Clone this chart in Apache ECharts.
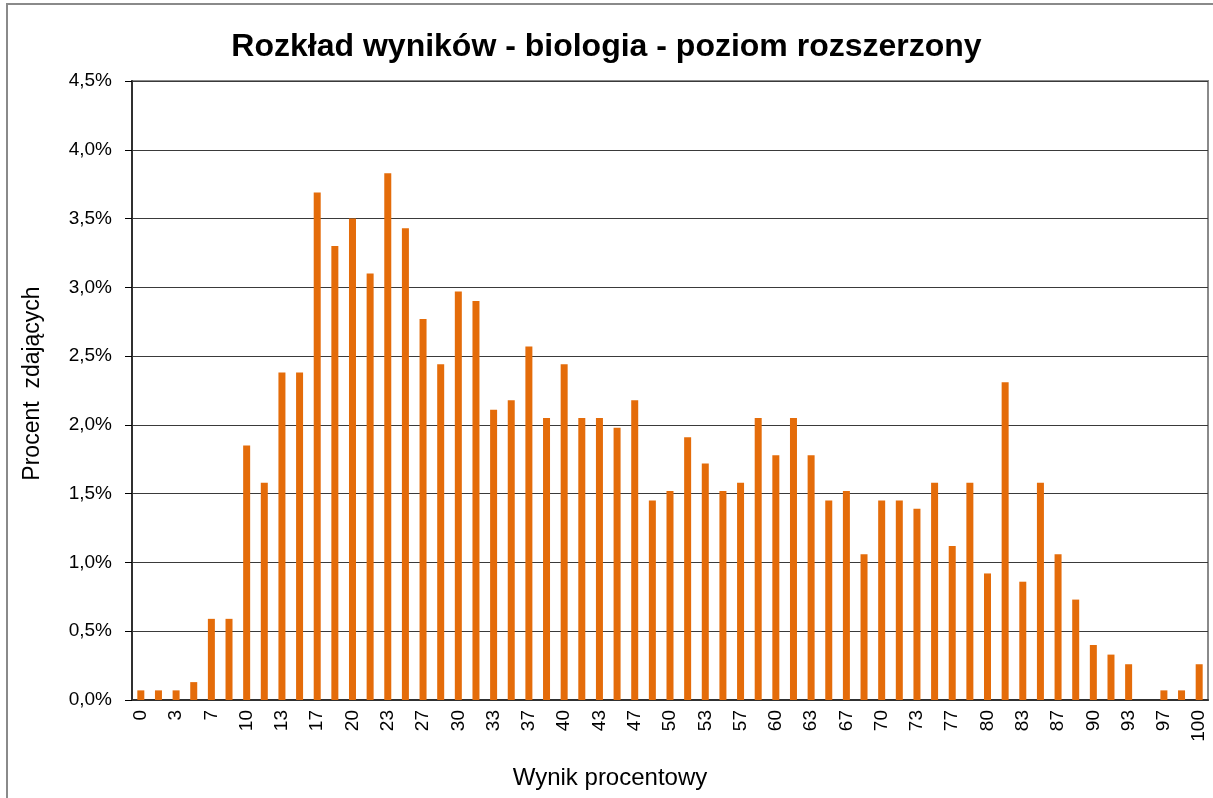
<!DOCTYPE html>
<html lang="pl">
<head>
    <meta charset="UTF-8">
    <title>Rozkład wyników - biologia - poziom rozszerzony</title>
    <script src="https://cdn.jsdelivr.net/npm/echarts@6/dist/echarts.min.js"></script>
    <style>
        body {
            margin: 0;
            padding: 0;
            background: #fff;
        }
        #chart {
            width: 1213px;
            height: 798px;
        }
    </style>
</head>
<body>
    <div id="chart"></div>

    <script>
        // wynik procentowy (kategorie osi X)
        var scores = ['0', '2', '3', '5', '7', '8', '10', '12', '13', '15', '17', '18', '20', '22', '23',
            '25', '27', '28', '30', '32', '33', '35', '37', '38', '40', '42', '43', '45', '47', '48',
            '50', '52', '53', '55', '57', '58', '60', '62', '63', '65', '67', '68', '70', '72', '73',
            '75', '77', '78', '80', '82', '83', '85', '87', '88', '90', '92', '93', '95', '97', '98', '100'];

        // procent zdających (w %)
        var percents = [0.07, 0.07, 0.07, 0.13, 0.59, 0.59, 1.85, 1.58, 2.38, 2.38, 3.69, 3.30, 3.50, 3.10, 3.83,
            3.43, 2.77, 2.44, 2.97, 2.90, 2.11, 2.18, 2.57, 2.05, 2.44, 2.05, 2.05, 1.98, 2.18, 1.45,
            1.52, 1.91, 1.72, 1.52, 1.58, 2.05, 1.78, 2.05, 1.78, 1.45, 1.52, 1.06, 1.45, 1.45, 1.39,
            1.58, 1.12, 1.58, 0.92, 2.31, 0.86, 1.58, 1.06, 0.73, 0.40, 0.33, 0.26, 0, 0.07, 0.07, 0.26];

        var font = 'Arial, "Liberation Sans", sans-serif';

        var chart = echarts.init(document.getElementById('chart'));

        var option = {
            animation: false,
            backgroundColor: '#fff',
            textStyle: { fontFamily: font, color: '#000' },
            // ramka całego wykresu
            graphic: [{
                type: 'rect',
                shape: { x: 7, y: 4, width: 1240, height: 820 },
                style: { fill: 'none', stroke: '#8a8a8a', lineWidth: 2 },
                silent: true
            }],
            title: {
                text: 'Rozkład wyników - biologia - poziom rozszerzony',
                left: 'center',
                top: 26,
                padding: [5, 0, 5, 22],
                textStyle: { fontFamily: font, fontSize: 32, fontWeight: 'bold', color: '#000' }
            },
            grid: {
                left: 132,
                right: 5,
                top: 81,
                bottom: 98,
                show: true,
                borderColor: '#8a8a8a',
                borderWidth: 2
            },
            xAxis: {
                type: 'category',
                data: scores,
                name: 'Wynik procentowy',
                nameLocation: 'middle',
                nameGap: 66,
                // przesunięcie podpisu w lewo, jak w oryginale
                nameTextStyle: { fontFamily: font, fontSize: 24, color: '#000', padding: [0, 120, 0, 0] },
                axisLine: { lineStyle: { color: '#303030', width: 2 } },
                axisTick: { interval: 0, length: 6, lineStyle: { color: '#000' } },
                axisLabel: {
                    interval: 1,
                    rotate: 90,
                    margin: 10,
                    fontFamily: font,
                    fontSize: 19,
                    color: '#000'
                },
                splitLine: { show: false }
            },
            yAxis: {
                type: 'value',
                min: 0,
                max: 4.5,
                interval: 0.5,
                name: 'Procent  zdających',
                nameLocation: 'middle',
                nameGap: 88,
                nameTextStyle: { fontFamily: font, fontSize: 23, color: '#000', padding: [0, 0, 0, 14] },
                axisLine: { show: true, lineStyle: { color: '#303030', width: 2 } },
                axisTick: { show: true, length: 7, lineStyle: { color: '#000' } },
                axisLabel: {
                    margin: 20,
                    fontFamily: font,
                    fontSize: 19,
                    color: '#000',
                    formatter: function (v) {
                        return v.toFixed(1).replace('.', ',') + '%';
                    }
                },
                splitLine: { lineStyle: { color: '#3a3a3a', width: 1 } }
            },
            series: [{
                type: 'bar',
                data: percents,
                barWidth: 7,
                itemStyle: { color: '#E46C0A' }
            }]
        };

        chart.setOption(option);
    </script>
</body>
</html>
